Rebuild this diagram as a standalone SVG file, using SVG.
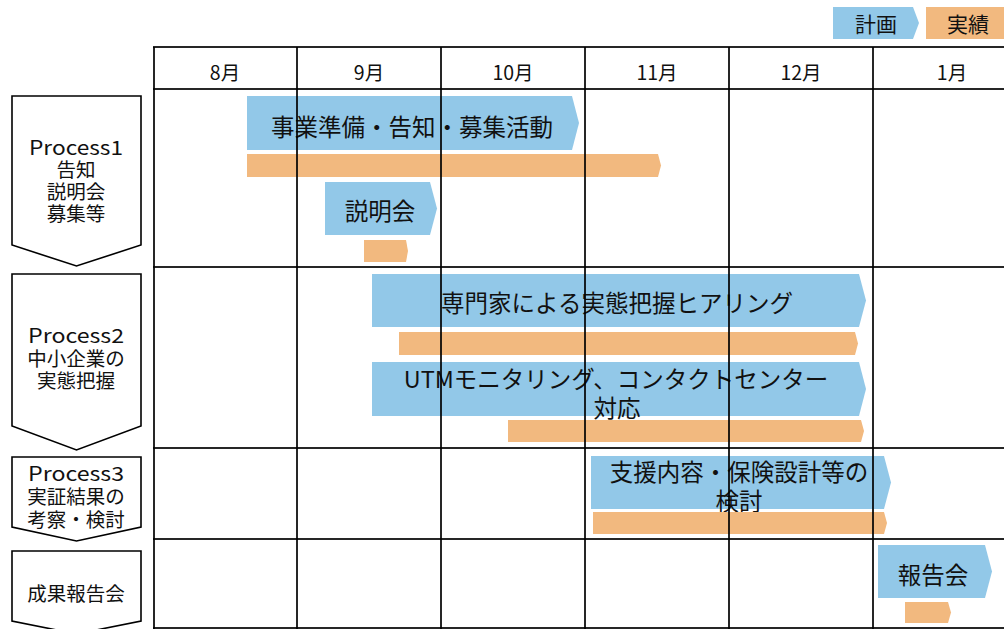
<svg xmlns="http://www.w3.org/2000/svg" width="1004" height="629" viewBox="0 0 1004 629">
<style>
  text { font-family: "Noto Sans CJK JP", "Noto Sans", sans-serif; fill: #111; text-anchor: middle; dominant-baseline: central; }
  .plan { fill: #92C8E8; }
  .act { fill: #F2B97F; }
  .bt { font-size: 23.5px; }
  .lg { font-size: 21px; }
  .mt { font-size: 19.5px; }
  .pt { font-size: 19.5px; }
  .chev { fill: #fff; stroke: #000; stroke-width: 1.6; }
  .grid { stroke: #000; stroke-width: 2; fill: none; stroke-opacity: 0.85; }
</style>
<rect width="1004" height="629" fill="#fff"/>

<g id="legend">
  <polygon class="plan" points="833,7 913,7 919,23 913,39 833,39"/>
  <text class="lg" x="876" y="23">計画</text>
  <rect class="act" x="926" y="7" width="78" height="32"/>
  <text class="lg" x="968" y="23">実績</text>
</g>

<g id="months">
  <text class="mt" x="225" y="71">8月</text>
  <text class="mt" x="369" y="71">9月</text>
  <text class="mt" x="513" y="71">10月</text>
  <text class="mt" x="657" y="71">11月</text>
  <text class="mt" x="801" y="71">12月</text>
  <text class="mt" x="952" y="71">1月</text>
</g>

<g id="bars">
  <g id="bar-p1-plan-a"><polygon class="plan" points="247,96 572,96 579,123 572,150 247,150"/><text class="bt" x="412" y="126">事業準備・告知・募集活動</text></g>
  <g id="bar-p1-act-a"><polygon class="act" points="247,154 658,154 661,165.5 658,177 247,177"/></g>
  <g id="bar-p1-plan-b"><polygon class="plan" points="325,182 430,182 437,208.5 430,235 325,235"/><text class="bt" x="380" y="210">説明会</text></g>
  <g id="bar-p1-act-b"><polygon class="act" points="364,240 406,240 408,251 406,262 364,262"/></g>
  <g id="bar-p2-plan-a"><polygon class="plan" points="372,274 859,274 866,300.5 859,327 372,327"/><text class="bt" x="617" y="302">専門家による実態把握ヒアリング</text></g>
  <g id="bar-p2-act-a"><polygon class="act" points="399,332 855,332 858,343.5 855,355 399,355"/></g>
  <g id="bar-p2-plan-b"><polygon class="plan" points="372,362 859,362 866,389 859,416 372,416"/><text class="bt" x="616" y="378">UTMモニタリング、コンタクトセンター<tspan x="617" dy="29">対応</tspan></text></g>
  <g id="bar-p2-act-b"><polygon class="act" points="508,420 861,420 864,431 861,442 508,442"/></g>
  <g id="bar-p3-plan"><polygon class="plan" points="591,456 884,456 891,482.5 884,509 591,509"/><text class="bt" x="739" y="471">支援内容・保険設計等の<tspan x="739" dy="29">検討</tspan></text></g>
  <g id="bar-p3-act"><polygon class="act" points="593,512 884,512 887,523 884,534 593,534"/></g>
  <g id="bar-rep-plan"><polygon class="plan" points="878,545 985,545 992,571.5 985,598 878,598"/><text class="bt" x="933" y="574">報告会</text></g>
  <g id="bar-rep-act"><polygon class="act" points="905,602 948,602 951,612.5 948,623 905,623"/></g>
</g>

<g id="grid" class="grid">
  <line x1="153" y1="47" x2="1004" y2="47"/>
  <line x1="153" y1="89" x2="1004" y2="89"/>
  <line x1="153" y1="267" x2="1004" y2="267"/>
  <line x1="153" y1="448" x2="1004" y2="448"/>
  <line x1="153" y1="539" x2="1004" y2="539"/>
  <line x1="153" y1="628" x2="1004" y2="628"/>
  <line x1="154" y1="47" x2="154" y2="629"/>
  <line x1="297" y1="47" x2="297" y2="629"/>
  <line x1="441" y1="47" x2="441" y2="629"/>
  <line x1="585" y1="47" x2="585" y2="629"/>
  <line x1="729" y1="47" x2="729" y2="629"/>
  <line x1="873" y1="47" x2="873" y2="629"/>
</g>

<g id="process1">
  <polygon class="chev" points="12,96 141,96 141,245 76.5,266 12,245"/>
  <text class="pt" x="76" y="146"><tspan x="76" textLength="94" lengthAdjust="spacingAndGlyphs">Process1</tspan><tspan x="76" dy="22">告知</tspan><tspan x="76" dy="22">説明会</tspan><tspan x="76" dy="22">募集等</tspan></text>
</g>
<g id="process2">
  <polygon class="chev" points="12,274 141,274 141,426 76.5,450 12,426"/>
  <text class="pt" x="76" y="334"><tspan x="76" textLength="96" lengthAdjust="spacingAndGlyphs">Process2</tspan><tspan x="76" dy="22.5">中小企業の</tspan><tspan x="76" dy="22.5">実態把握</tspan></text>
</g>
<g id="process3">
  <polygon class="chev" points="12,457 141,457 141,527 76.5,541 12,527"/>
  <text class="pt" x="76" y="472"><tspan x="76" textLength="96" lengthAdjust="spacingAndGlyphs">Process3</tspan><tspan x="76" dy="23">実証結果の</tspan><tspan x="76" dy="23">考察・検討</tspan></text>
</g>
<g id="report">
  <polygon class="chev" points="12,551 141,551 141,621 76.5,634 12,621"/>
  <text class="pt" x="76" y="592">成果報告会</text>
</g>
</svg>
